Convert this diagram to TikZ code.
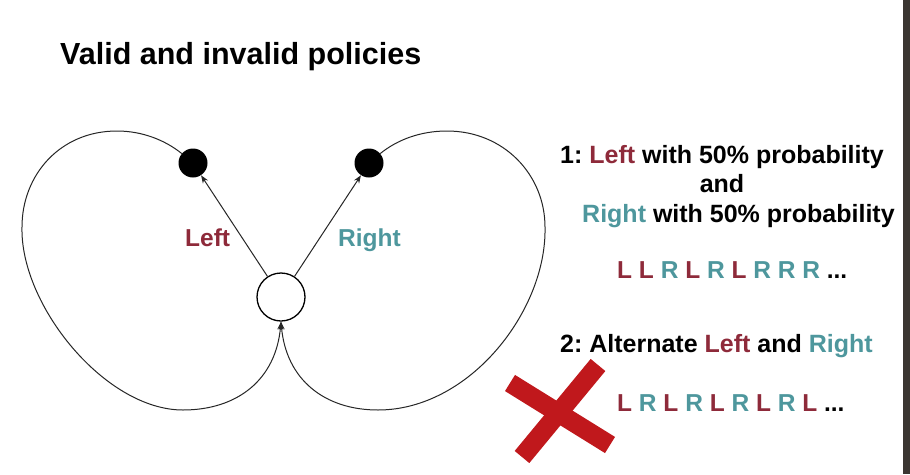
\documentclass[tikz,border=0pt]{standalone}
\usepackage{fontspec}
\setmainfont{Liberation Sans}
\usepackage{xcolor}
\usepackage{tikz}
\usetikzlibrary{arrows.meta}
\definecolor{leftred}{HTML}{8E2A3A}
\definecolor{rightteal}{HTML}{4E979D}
\definecolor{crossred}{HTML}{C0181C}
\definecolor{edgedark}{HTML}{3B3632}
\newcommand{\Lt}{\textcolor{leftred}{L}}
\newcommand{\Rt}{\textcolor{rightteal}{R}}
\frenchspacing

\begin{document}
\begin{tikzpicture}[x=1pt,y=1pt,>={Stealth[length=8pt,width=6pt]},
    edge/.style={line width=1pt,black!85},
    txt/.style={anchor=base west,inner sep=0pt,font=\fontsize{25}{30}\selectfont\bfseries},
    seqtxt/.style={anchor=base west,inner sep=0pt,font=\fontsize{24.5}{30}\selectfont\bfseries},
    dot/.style={circle,fill=black,minimum size=29pt,inner sep=0pt},
    cross/.style={line width=19pt,crossred}]
    \useasboundingbox (0,0) rectangle (910,-474);
    \fill[white] (0,0) rectangle (910,-474);
    \fill[edgedark] (903,0) rectangle (910,-474);
    \node[anchor=base west,inner sep=0pt,font=\fontsize{30.5}{36}\selectfont\bfseries] (title) at (60,-64) {Valid and invalid policies};
    \node[draw,circle,line width=1.3pt,minimum size=48pt,inner sep=0pt] (start) at (281,-297) {};
    \node[dot] (ldot) at (193,-163) {};
    \node[dot] (rdot) at (369,-163) {};
    \draw[edge,->] (start) -- (ldot);
    \draw[edge,->] (start) -- (rdot);
    \draw[edge,->] (ldot.140) .. controls (165,-140) and (142,-131) .. (117,-131)
        .. controls (60,-131) and (22,-175) .. (22,-227)
        .. controls (20,-305) and (105,-410) .. (183,-410)
        .. controls (237,-410) and (276,-380) .. (start.south);
    \draw[edge,->] (rdot.40) .. controls (397,-140) and (420,-131) .. (447,-131)
        .. controls (504,-131) and (545,-175) .. (545,-227)
        .. controls (547,-310) and (470,-410) .. (378,-410)
        .. controls (325,-410) and (286,-380) .. (start.south);
    \node[txt,font=\fontsize{24.5}{30}\selectfont\bfseries,text=leftred] (leftlbl) at (185,-246) {Left};
    \node[txt,font=\fontsize{24.5}{30}\selectfont\bfseries,text=rightteal] (rightlbl) at (338,-246) {Right};
    \node[txt] (pol1) at (560,-163) {1: \textcolor{leftred}{Left} with 50\% probability};
    \node[txt,anchor=base] (and1) at (722,-192) {and};
    \node[txt] (pol1b) at (582,-222) {\textcolor{rightteal}{Right} with 50\% probability};
    \node[seqtxt] (seq1) at (617,-278) {\Lt{} \Lt{} \Rt{} \Lt{} \Rt{} \Lt{} \Rt{} \Rt{} \Rt{} ...};
    \node[txt] (pol2) at (560,-352) {2: Alternate \textcolor{leftred}{Left} and \textcolor{rightteal}{Right}};
    \node[seqtxt] (seq2) at (617,-411) {\Lt{} \Rt{} \Lt{} \Rt{} \Lt{} \Rt{} \Lt{} \Rt{} \Lt{} ...};
    \draw[cross] (510,-383) -- (610,-445);
    \draw[cross] (598,-365) -- (522,-457);
  \end{tikzpicture}
\end{document}
